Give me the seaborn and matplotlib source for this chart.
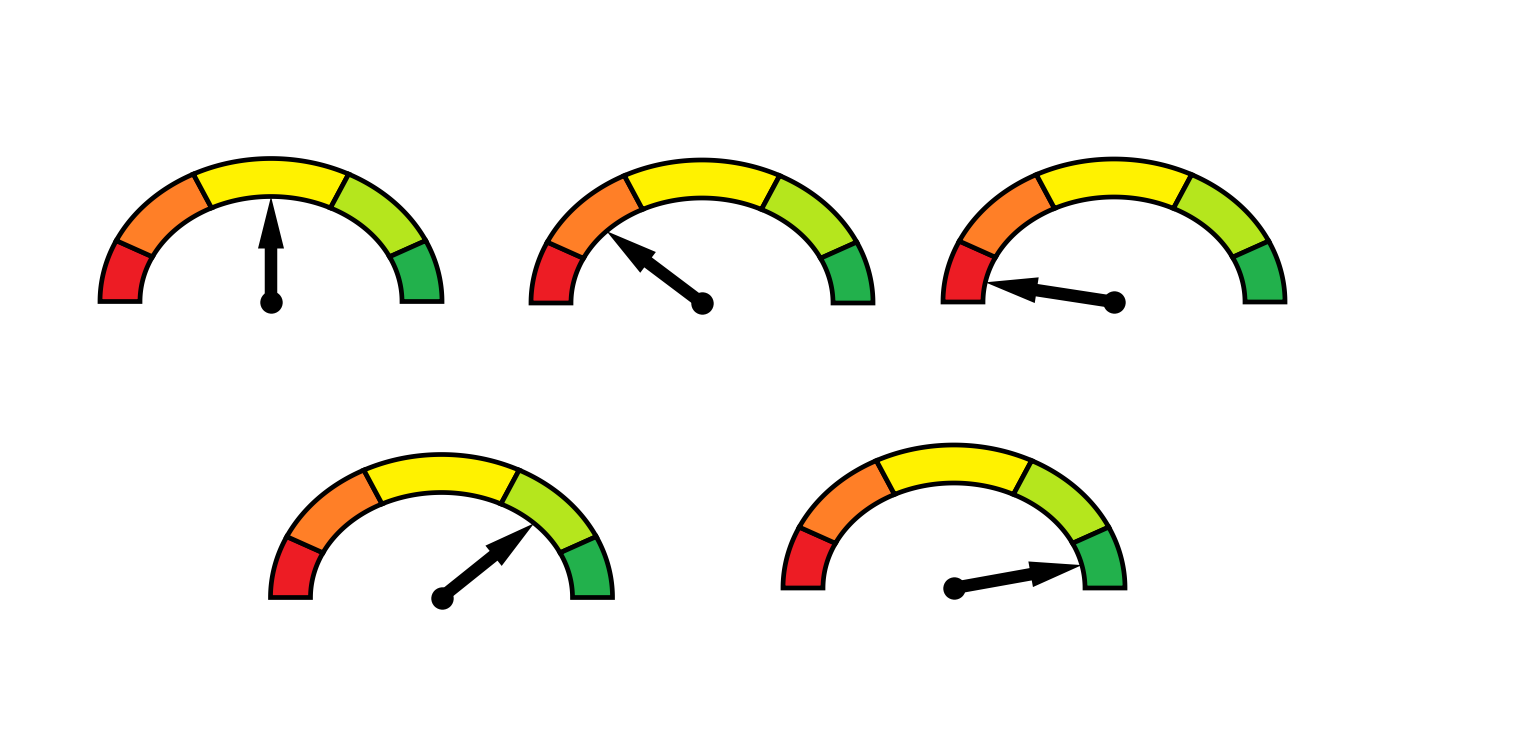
import numpy as np
import matplotlib
matplotlib.use("Agg")
import matplotlib.pyplot as plt
from matplotlib.patches import Polygon, FancyArrow
import seaborn as sns

# gauge readings (0-100) for the five dials
needle_values = [50, 24, 6, 75, 93]

# zone edges on the 0-100 scale and the fill of each zone
zone_edges = [0, 14, 35, 65, 86, 100]
zone_colors = ["#ED1C24", "#FF7F27", "#FFF200", "#B5E61D", "#22B14C"]

# layout: gauge centres in pixel units of the canvas
gauge_x = [271, 702, 1114, 441.5, 954]
gauge_y = [301.5, 303, 302, 597.5, 588]

RX_OUT, RY_OUT = 171, 143
RX_IN, RY_IN = 131, 105


def value_to_angle(v):
    # 0 -> left (180 deg), 100 -> right (0 deg)
    return np.pi * (1 - v / 100.0)


def draw_band(ax, cx, cy, v0, v1, color):
    t = np.linspace(value_to_angle(v0), value_to_angle(v1), 80)
    outer = np.column_stack([cx + RX_OUT * np.cos(t), cy - RY_OUT * np.sin(t)])
    inner = np.column_stack([cx + RX_IN * np.cos(t[::-1]), cy - RY_IN * np.sin(t[::-1])])
    pts = np.vstack([outer, inner])
    ax.add_patch(Polygon(pts, closed=True, facecolor=color, edgecolor="black",
                         linewidth=3.4, joinstyle="miter"))


def draw_needle(ax, cx, cy, value):
    t = value_to_angle(value)
    tip_x = cx + RX_IN * np.cos(t)
    tip_y = cy - RY_IN * np.sin(t)
    ax.add_patch(FancyArrow(cx, cy, tip_x - cx, tip_y - cy, width=12.5,
                            head_width=26, head_length=52,
                            length_includes_head=True, color="black",
                            linewidth=0))


sns.set_style("white")
fig = plt.figure(figsize=(15.33, 7.43), dpi=100)
ax = fig.add_axes([0, 0, 1, 1])

for cx, cy, val in zip(gauge_x, gauge_y, needle_values):
    for k, col in enumerate(zone_colors):
        draw_band(ax, cx, cy, zone_edges[k], zone_edges[k + 1], col)
    draw_needle(ax, cx, cy, val)

# needle hubs
sns.scatterplot(x=gauge_x, y=gauge_y, s=260, color="black", linewidth=0,
                legend=False, ax=ax, zorder=5)

ax.set_xlim(0, 1533)
ax.set_ylim(743, 0)
ax.axis("off")

fig.savefig("out.png", dpi=100, facecolor="white")
